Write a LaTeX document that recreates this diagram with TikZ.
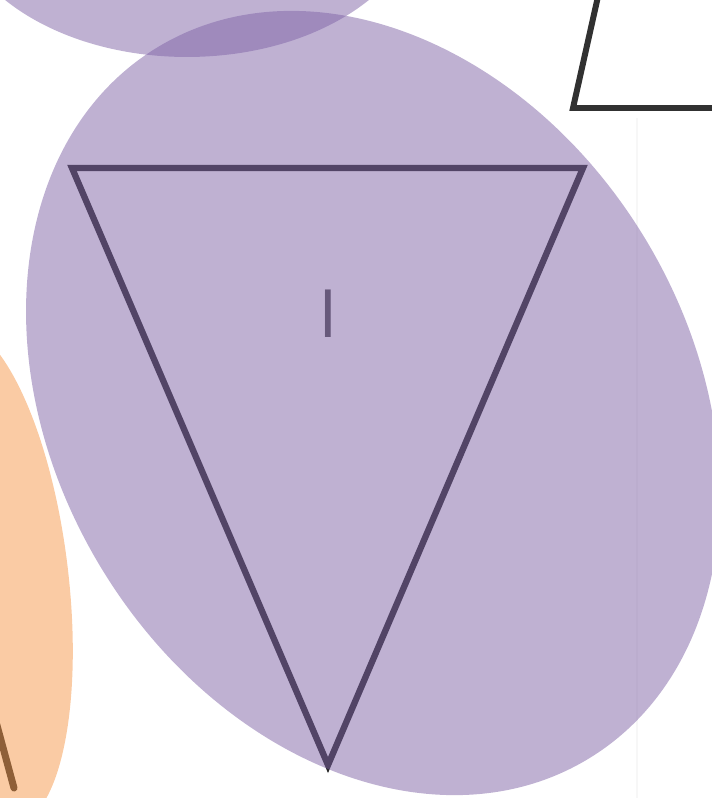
\documentclass[tikz,border=0pt]{standalone}
\usetikzlibrary{calc}
\definecolor{purp}{RGB}{127,99,166}
\definecolor{orng}{RGB}{246,152,74}
\definecolor{edge}{RGB}{38,38,38}
\definecolor{labelgray}{RGB}{80,80,80}
\begin{document}
\begin{tikzpicture}[x=0.02cm,y=-0.02cm,
  triedge/.style={draw=edge,line width=3.6pt,line join=miter},
  blob/.style={opacity=0.5},
  faint/.style={draw=black,opacity=0.03,line width=1.2pt}]
\useasboundingbox (0,0) rectangle (711,798);
% faint frame line
\draw[faint] (637,118) -- (637,798);
% triangle (drawn below the translucent ellipse)
\coordinate (tl) at (72,168);
\coordinate (tr) at (583,168);
\coordinate (tb) at (328,765);
\draw[triedge] (tl) -- (tr) -- (tb) -- cycle;
\node[text=labelgray,font=\fontsize{39}{40}\selectfont\sffamily,inner sep=0pt] (lab) at (328,314) {I};
% partial shape at lower left
\coordinate (bl1) at (-14,685);
\coordinate (bl2) at (14,788);
\draw[draw=edge,line width=4pt,line cap=round] (bl1) -- (bl2);
% partial shape at top right
\coordinate (ur1) at (599,-8);
\coordinate (ur2) at (573,108);
\coordinate (ur3) at (720,108);
\draw[draw=edge!95,line width=3.4pt] (ur1) -- (ur2) -- (ur3);
% translucent ellipses
\fill[purp,blob] (187,-100) ellipse [x radius=4.72cm, y radius=3.14cm];
\fill[purp,blob,rotate around={-58.8:(373,403)}] (373,403) ellipse [x radius=8.32cm, y radius=6.36cm];
\fill[orng,blob,rotate around={-83:(-17,575)}] (-17,575) ellipse [x radius=5.05cm, y radius=1.7cm];
\end{tikzpicture}
\end{document}
